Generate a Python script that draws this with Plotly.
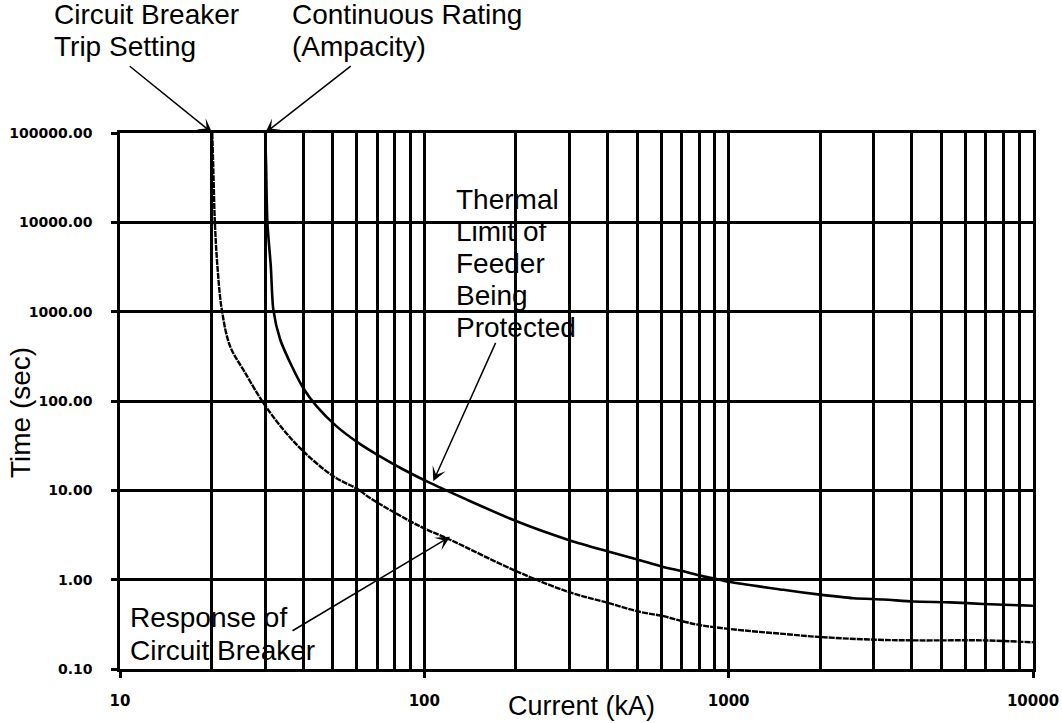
import numpy as np
import plotly.graph_objects as go

# ---- data ----
breaker_current = [20.1, 20.3, 20.5, 20.9, 21.6, 23.0, 25.6, 29.6, 34.4, 40.0, 50.2, 60.7,
                   66.3, 96.8, 121.5, 201, 301, 402, 505, 610, 710, 805, 1010, 1512, 1995,
                   2990, 4150, 6870, 10000]
breaker_time = [100000, 30100, 9870, 3220, 1055, 410, 215, 95, 47.9, 27.4, 14.4, 10.2,
                8.2, 3.95, 2.8, 1.24, 0.72, 0.55, 0.44, 0.39, 0.34, 0.31, 0.28, 0.247, 0.228,
                0.213, 0.209, 0.209, 0.199]

thermal_current = [30.0, 30.2, 30.5, 31.3, 31.9, 33.6, 36.7, 40.0, 44.3, 51.5, 60.7, 71.5,
                   85.3, 104.4, 201, 301, 402, 505, 610, 710, 805, 914, 1010, 1512, 1995,
                   2570, 3220, 4045, 5340, 6870, 10000]
thermal_time = [100000, 44400, 9870, 3220, 1055, 488, 245, 140, 87, 52, 34, 24,
                17.1, 12.1, 4.5, 2.75, 2.07, 1.67, 1.39, 1.24, 1.11, 1.02, 0.94, 0.77, 0.68,
                0.62, 0.60, 0.57, 0.557, 0.535, 0.51]

x_major = [10, 100, 1000, 10000]
x_major_text = ["10", "100", "1000", "10000"]
x_minor = [m * d for d in (10, 100, 1000) for m in range(2, 10)]
y_major = [0.1, 1, 10, 100, 1000, 10000, 100000]
y_major_text = ["0.10", "1.00", "10.00", "100.00", "1000.00", "10000.00", "100000.00"]

W, H = 1062, 723
ML, MR, MT, MB = 120, 29, 133, 54
PW, PH = W - ML - MR, H - MT - MB

def px(x):
    return (x - ML) / PW

def py(y):
    return (H - MB - y) / PH

TXT = dict(family="Liberation Sans, Arial, sans-serif", size=28, color="black")
TICK = dict(family="DejaVu Sans, Verdana, sans-serif", size=15, color="black")

fig = go.Figure()
fig.add_trace(go.Scatter(x=thermal_current, y=thermal_time, mode="lines",
                         line=dict(color="black", width=2.6, shape="spline", smoothing=0.7),
                         showlegend=False))
fig.add_trace(go.Scatter(x=breaker_current, y=breaker_time, mode="lines",
                         line=dict(color="black", width=2.4, dash="6px,1px",
                                   shape="spline", smoothing=1.0),
                         showlegend=False))

grid = dict(showgrid=True, gridcolor="black", gridwidth=2.5)
fig.update_xaxes(type="log", range=[1, 4], tickmode="array", tickvals=x_major,
                 ticktext=["<b>%s</b>" % t for t in x_major_text], tickfont=TICK,
                 ticks="outside", ticklen=6, tickwidth=2.5, tickcolor="black",
                 ticklabelstandoff=10, automargin=False,
                 showline=True, linecolor="black", linewidth=2.5, mirror=True,
                 minor=dict(tickmode="array", tickvals=x_minor, showgrid=True,
                            gridcolor="black", gridwidth=2.5, ticks=""),
                 zeroline=False, **grid)
fig.update_yaxes(type="log", range=[-1, 5], tickmode="array", tickvals=y_major,
                 ticktext=["<b>%s</b>" % t for t in y_major_text],
                 tickfont=dict(TICK, size=14),
                 ticks="outside", ticklen=6, tickwidth=2.5, tickcolor="black",
                 ticklabelstandoff=16, automargin=False,
                 showline=True, linecolor="black", linewidth=2.5, mirror=True,
                 zeroline=False, **grid)

ann = []
# text labels (one annotation per line)
lines = [
    ("Circuit Breaker", 52, 14), ("Trip Setting", 52, 46),
    ("Continuous Rating", 290, 14), ("(Ampacity)", 290, 46),
    ("Thermal", 454, 199), ("Limit of", 454, 231), ("Feeder", 454, 263),
    ("Being", 454, 295), ("Protected", 454, 327),
    ("Response of", 128, 617), ("Circuit Breaker", 128, 650),
]
for t, x, y in lines:
    ann.append(dict(text=t, xref="paper", yref="paper", x=px(x), y=py(y),
                    xanchor="left", yanchor="middle", showarrow=False, font=TXT))

# axis titles
ann.append(dict(text="Current (kA)", xref="paper", yref="paper", x=px(581), y=py(706),
                xanchor="center", yanchor="middle", showarrow=False,
                font=dict(TXT, size=27)))
ann.append(dict(text="Time (sec)", xref="paper", yref="paper", x=px(20), y=py(413),
                xanchor="center", yanchor="middle", showarrow=False, font=TXT,
                textangle=-90))

# arrows (head at data point, tail offset in pixels)
arrows = [
    (breaker_current[0], 100000, -84, -68),
    (thermal_current[0], 100000, 87, -68),
    (107, 12.6, 63, -140),
    (121.5, 3.03, -159, 95),
]
for xv, yv, ax, ay in arrows:
    ann.append(dict(text="", x=np.log10(xv), y=np.log10(yv), xref="x", yref="y",
                    showarrow=True, ax=ax, ay=ay, arrowhead=3, arrowsize=1.6,
                    arrowwidth=1.5, arrowcolor="black", standoff=0))

fig.update_layout(width=W, height=H, margin=dict(l=ML, r=MR, t=MT, b=MB),
                  paper_bgcolor="white", plot_bgcolor="white", annotations=ann,
                  showlegend=False)

fig.write_html("out.html", config={"displayModeBar": False},
               post_script="document.body.style.margin='0';document.body.style.overflow='hidden';")
